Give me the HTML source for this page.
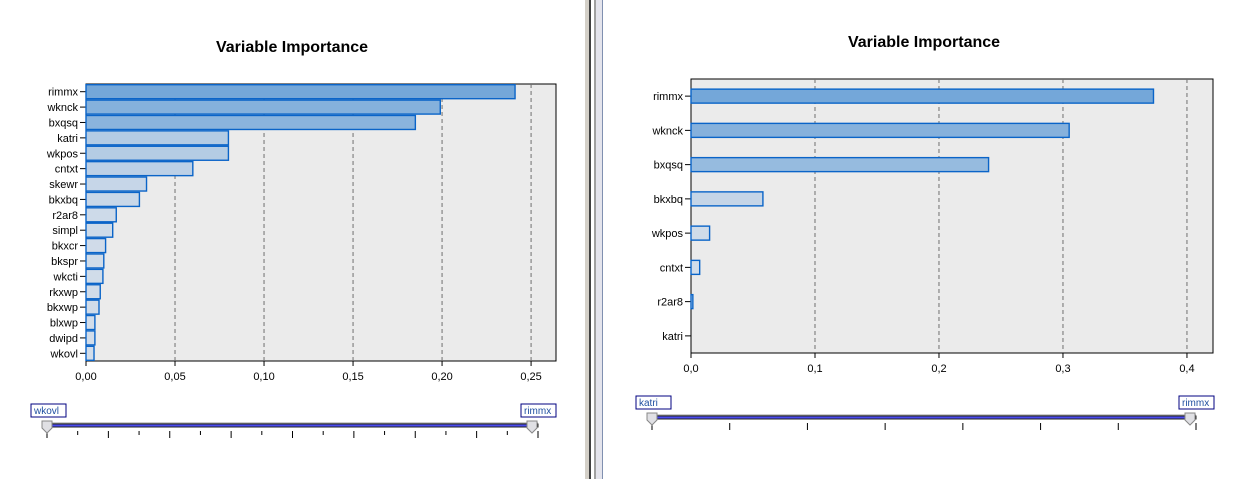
<!DOCTYPE html>
<html><head><meta charset="utf-8"><style>
body{margin:0;width:1239px;height:479px;background:#fff;overflow:hidden;font-family:"Liberation Sans",sans-serif}
svg text{font-family:"Liberation Sans",sans-serif}
</style></head><body>
<svg id="s" width="1239" height="479">
<rect x="585" y="0" width="5" height="479" fill="#d4d0c8"/>
<rect x="589" y="0" width="2" height="479" fill="#404040"/>
<rect x="594" y="0" width="2" height="479" fill="#a0a0a0"/>
<rect x="596" y="0" width="7" height="479" fill="#e4e4ec"/>
<rect x="602" y="0" width="1" height="479" fill="#8090b0"/>
</svg>
<script>
const catsA=["rimmx","wknck","bxqsq","katri","wkpos","cntxt","skewr","bkxbq","r2ar8","simpl","bkxcr","bkspr","wkcti","rkxwp","bkxwp","blxwp","dwipd","wkovl"];
const valsA=[0.241,0.199,0.185,0.080,0.080,0.060,0.034,0.030,0.017,0.015,0.011,0.010,0.0095,0.008,0.0073,0.005,0.005,0.0045];
const ticksA=[0,0.05,0.10,0.15,0.20,0.25];
const tickLabelsA=["0,00","0,05","0,10","0,15","0,20","0,25"];
const catsB=["rimmx","wknck","bxqsq","bkxbq","wkpos","cntxt","r2ar8","katri"];
const valsB=[0.373,0.305,0.240,0.058,0.015,0.007,0.0015,0];
const ticksB=[0,0.1,0.2,0.3,0.4];
const tickLabelsB=["0,0","0,1","0,2","0,3","0,4"];
const NS="http://www.w3.org/2000/svg";
const svg=document.getElementById('s');
function mk(t,a,p){const e=document.createElementNS(NS,t);for(const k in a)e.setAttribute(k,a[k]);(p||svg).appendChild(e);return e;}
function col(f){const c1=[0xd4,0xde,0xea],c2=[0x74,0xa7,0xd9];const t=Math.min(1,Math.max(0,f));return 'rgb('+c1.map((v,i)=>Math.round(v+(c2[i]-v)*t)).join(',')+')';}
function chart(o){
 const g=mk('g',{});
 
 
 const x=v=>o.x0+(v-0)*(o.x1-o.x0)/o.max;
 const t=mk('text',{x:o.titleX,y:o.titleY,'text-anchor':'middle','font-size':16,'font-weight':'bold',fill:'#000'},g);t.textContent='Variable Importance';
 
 
 const bg=mk('rect',{x:o.x0,y:o.y0,width:o.x1-o.x0,height:o.y1-o.y0,fill:'#ebebeb',stroke:'#000','stroke-width':1},g);
 
 
 o.ticks.forEach((v,i)=>{
  if(v>0){const l=mk('line',{x1:x(v),x2:x(v),y1:o.y0,y2:o.y1,stroke:'#707070','stroke-dasharray':'4,3'},g);
   
   }
  mk('line',{x1:x(v),x2:x(v),y1:o.y1,y2:o.y1+5,stroke:'#000'},g);
  const tl=mk('text',{x:x(v),y:o.y1+19,'text-anchor':'middle','font-size':11,fill:'#000'},g);tl.textContent=o.labels[i];
  
  
 });
 const n=o.cats.length,rh=(o.y1-o.y0)/n,mx=Math.max(...o.vals);
 o.cats.forEach((c,i)=>{
  const cy=o.y0+rh*(i+0.5);
  mk('line',{x1:o.x0-6,x2:o.x0,y1:cy,y2:cy,stroke:'#000'},g);
  const tl=mk('text',{x:o.x0-8,y:cy+4,'text-anchor':'end','font-size':11,fill:'#000'},g);tl.textContent=c;
  
  
  const v=o.vals[i];
  if(v>0){const b=mk('rect',{x:o.x0,y:cy-o.bh/2,width:Math.max(1,x(v)-o.x0),height:o.bh,fill:col(v/mx),stroke:'#0a64c8','stroke-width':1.4},g);
   
   }
 });
 const s=o.sl;
 const sg=mk('g',{},g);
 
 
 mk('rect',{x:s.a,y:s.y,width:s.b-s.a,height:3,fill:'#4a4af0',stroke:'#222','stroke-width':1},sg);
 mk('line',{x1:s.a,x2:s.b,y1:s.y-1,y2:s.y-1,stroke:'#999'},sg);
 for(let k=0;k<=s.nt;k++){const tx=s.a+(s.b-s.a)*k/s.nt;mk('line',{x1:tx,x2:tx,y1:s.y+7,y2:s.y+7+((k%2==0||!s.alt)?7:4),stroke:'#000'},sg);}
 [[s.a,s.l1,0],[s.b,s.l2,1]].forEach(([px,lab,r])=>{
  mk('path',{d:'M'+(r?px-11:px-5)+' '+(s.y-3)+'h10v7l-5 5l-5-5z',fill:'#e0e0e4',stroke:'#888'},sg);
  const w=lab.length*6+5,bx=r?px-17:px-16;
  const bxr=mk('rect',{x:bx,y:s.y-20,width:w,height:13,fill:'#fff',stroke:'#000080'},sg);
  
  
  const tt=mk('text',{x:bx+3,y:s.y-10,'font-size':10,fill:'#2050a0'},sg);tt.textContent=lab;
 });
}
chart({name:'chart-left',cats:catsA,vals:valsA,ticks:ticksA,labels:tickLabelsA,max:0.264,x0:86,x1:556,y0:84,y1:361,bh:14,titleX:292,titleY:52,
 sl:{a:47,b:538,y:424,nt:16,alt:true,l1:'wkovl',l2:'rimmx'}});
chart({name:'chart-right',cats:catsB,vals:valsB,ticks:ticksB,labels:tickLabelsB,max:0.421,x0:691,x1:1213,y0:79,y1:353,bh:14,titleX:924,titleY:47,
 sl:{a:652,b:1196,y:416,nt:7,alt:false,l1:'katri',l2:'rimmx'}});
</script>
</body></html>
